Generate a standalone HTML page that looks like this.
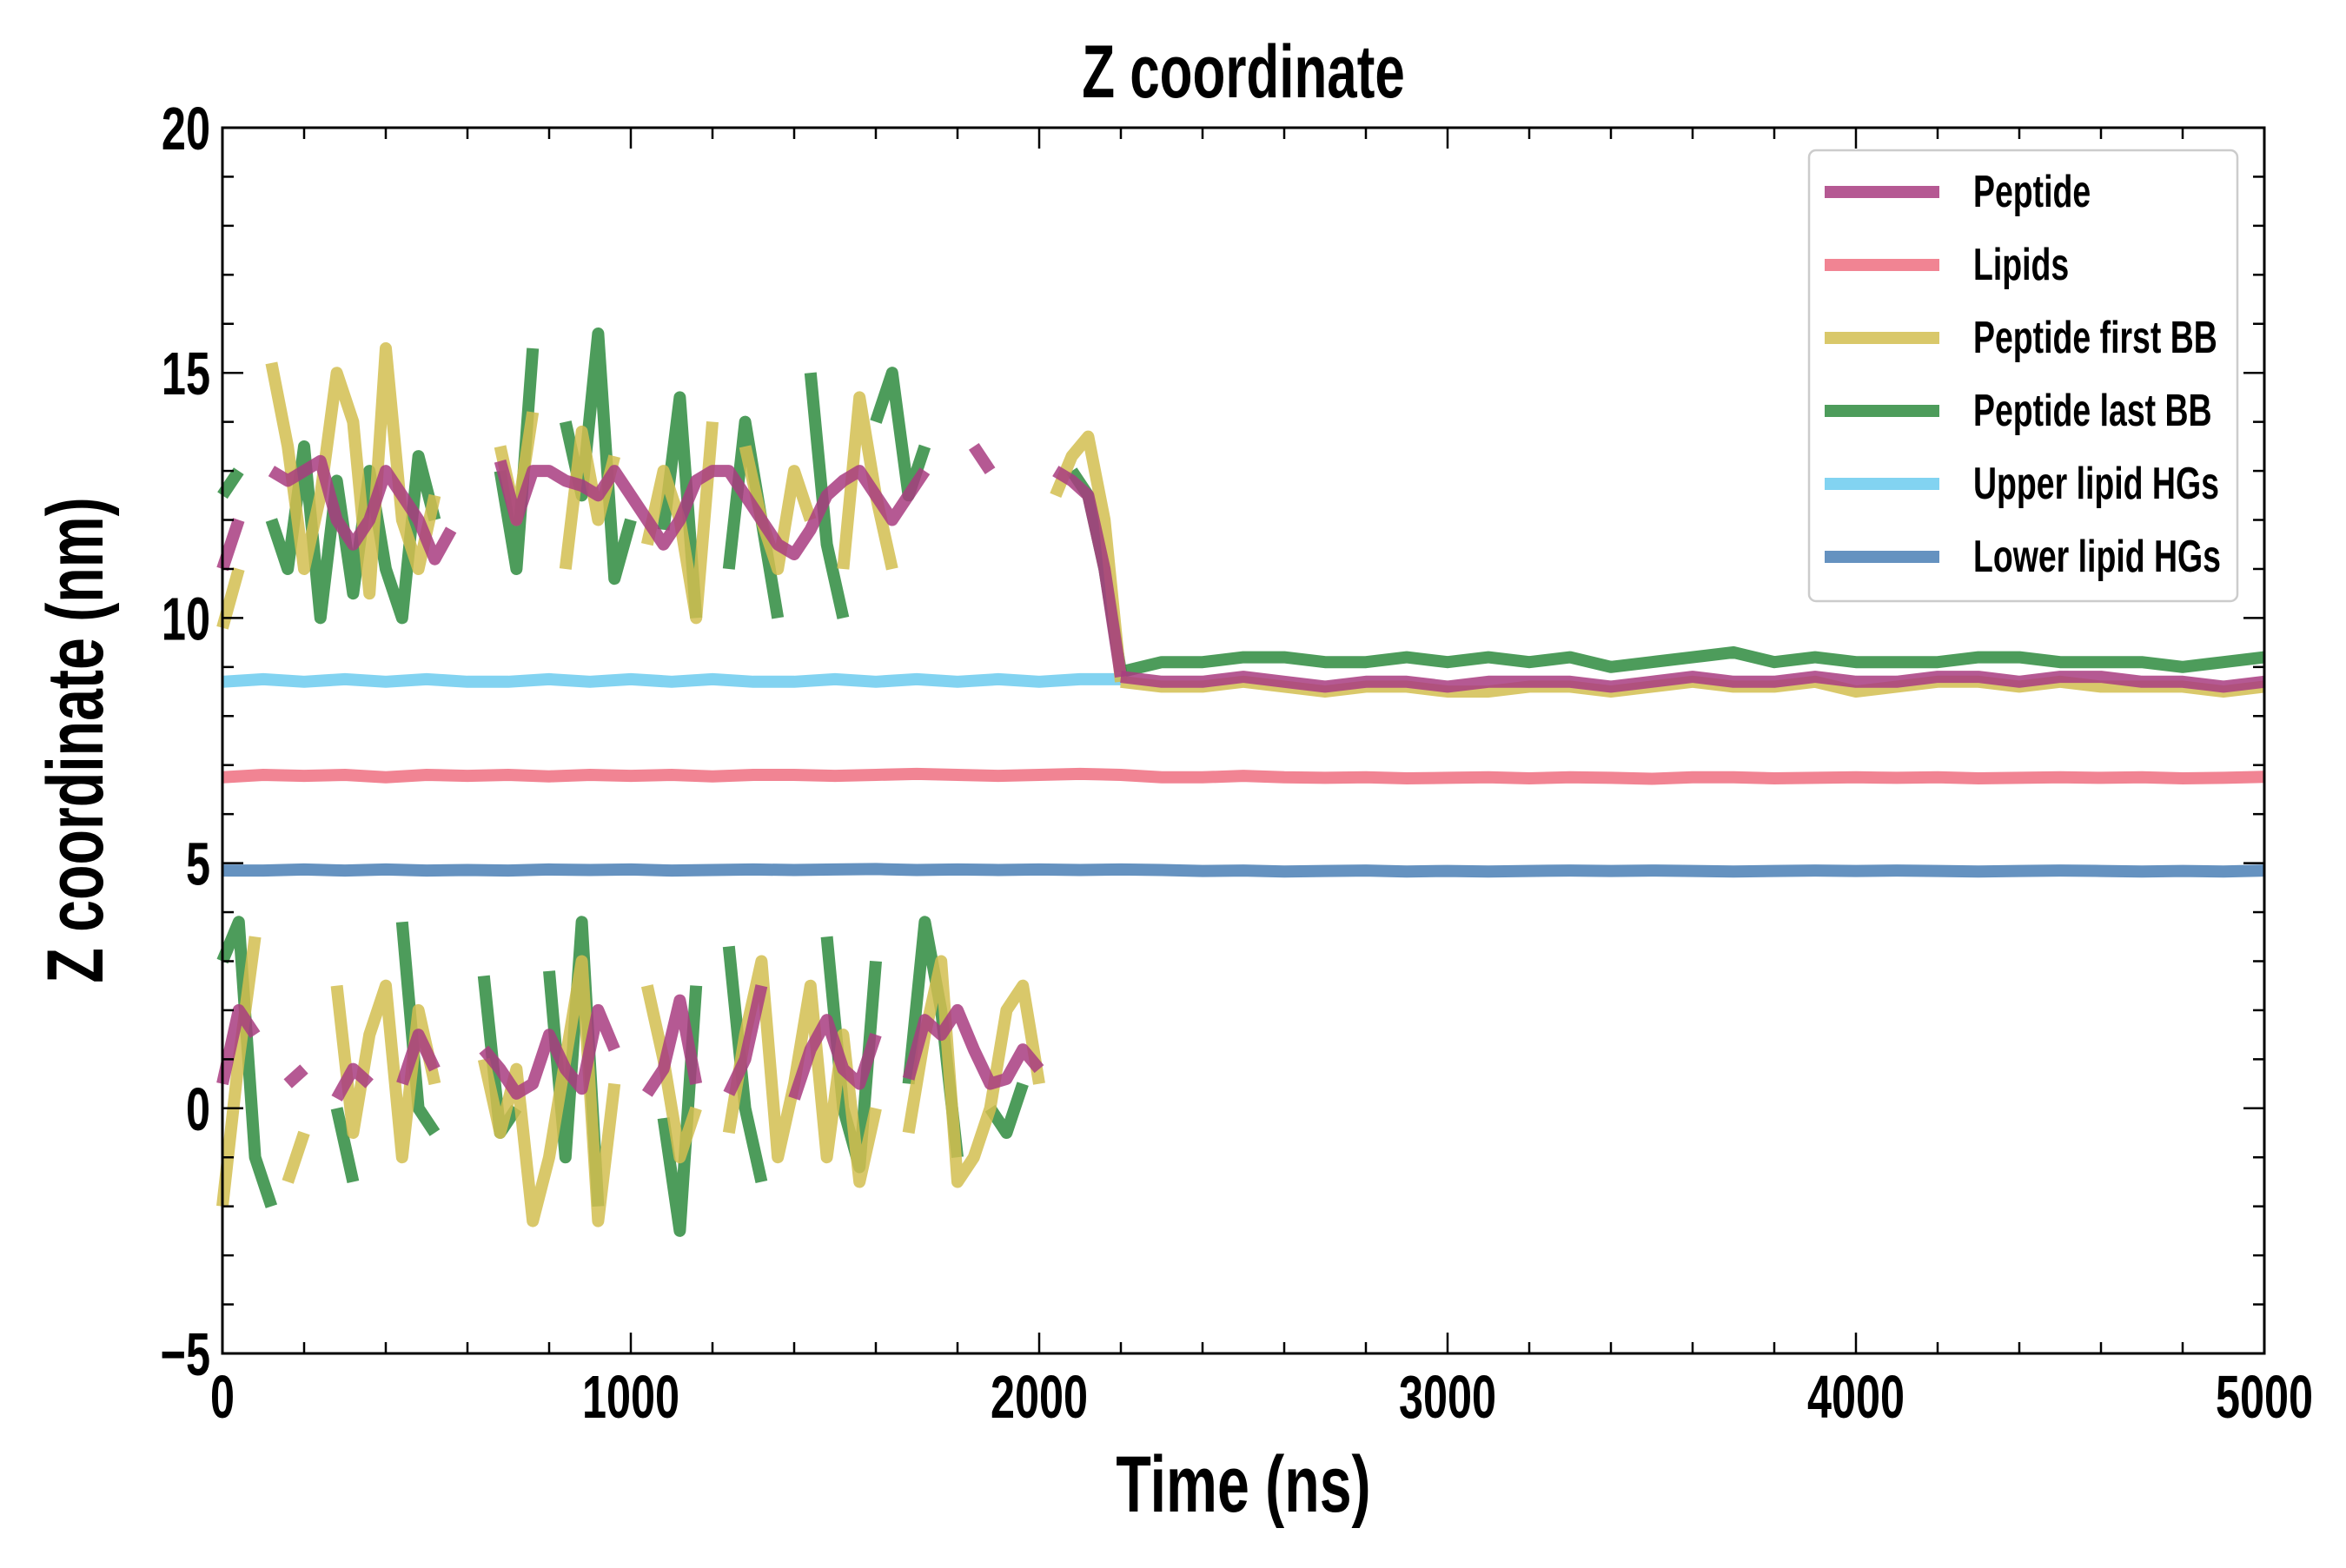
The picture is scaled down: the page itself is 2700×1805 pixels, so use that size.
<!DOCTYPE html>
<html><head><meta charset="utf-8"><style>
html,body{margin:0;padding:0;background:#fff;}
svg text{font-family:"Liberation Sans Narrow","Liberation Sans",sans-serif;font-weight:bold;}
</style></head><body>
<svg id="chart" width="2700" height="1800" viewBox="0 0 2700 1800" xmlns="http://www.w3.org/2000/svg">
<rect width="2700" height="1800" fill="#fff"/>
<g id="marks"></g>
<g id="axes"></g>
<text class="cond" x="1431" y="112" font-size="86" text-anchor="middle">Z coordinate</text>
<text class="cond" x="1431" y="1740" font-size="92" text-anchor="middle">Time (ns)</text>
<text class="cond" transform="translate(118,852) rotate(-90)" font-size="92" text-anchor="middle">Z coordinate (nm)</text>
<g id="legend"></g>
</svg>
<script>
const xTicks=[0,1000,2000,3000,4000,5000];
const yTicks=[-5,0,5,10,15,20];
const seriesNames=["Peptide","Lipids","Peptide first BB","Peptide last BB","Upper lipid HGs","Lower lipid HGs"];
const seriesColors=["#a83c80","#ee6e80","#d2be50","#2e8b3e","#6ccbef","#4a7fb5"];
// early phase, t = 0..2200 step 40
const pepUp=[11,12,null,13,12.8,13,13.2,12,11.5,12,13,12.5,12,11.2,11.8,null,null,13.2,12,13,13,12.8,12.7,12.5,13,12.5,12,11.5,12,12.8,13,13,12.5,12,11.5,11.3,11.8,12.5,12.8,13,12.5,12,12.5,13,null,null,13.5,13,null,12.5,null,13,12.8,12.5,11,8.8];
const firstUp=[9.8,11,null,15.2,13.5,11,12.5,15,14,10.5,15.5,12,11,12.5,null,null,null,13.5,12,14.2,null,11,13.8,12,13.3,null,11.5,13,12,10,14,null,13.5,12,11,13,12,null,11,14.5,12.5,11,null,13.5,null,null,null,null,15.5,null,null,12.5,13.3,13.7,12,8.7];
const lastUp=[12.5,13,null,12,11,13.5,10,12.8,10.5,13,11,10,13.3,12,null,null,null,13,11,15.5,null,14,12.5,15.8,10.8,12,null,11.8,14.5,10,null,11,14,12,10,null,15,11.5,10,null,14,15,12.5,13.5,null,null,16.3,null,12,null,null,null,13,12.5,11,8.9];
const pepLo=[0.5,2,1.5,null,0.5,0.8,null,0.2,0.8,0.5,null,0.5,1.5,0.8,null,null,1.2,0.8,0.3,0.5,1.5,0.8,0.4,2,1.2,null,0.3,0.8,2.2,0.5,null,0.3,1,2.5,null,0.2,1.2,1.8,0.8,0.5,1.5,null,0.6,1.8,1.5,2,1.2,0.5,0.6,1.2,0.8,null,null,null,null,null];
const firstLo=[-2,1,3.5,null,-1.5,-0.5,null,2.5,-0.5,1.5,2.5,-1,2,0.5,null,null,1,-0.5,0.8,-2.3,-1,1,3,-2.3,0.5,null,2.5,1,-1,0,null,-0.5,1.5,3,-1,0.5,2.5,-1,1.5,-1.5,0,null,-0.5,1.5,3,-1.5,-1,0,2,2.5,0.5,null,null,null,null,null];
const lastLo=[3,3.8,-1,-2,null,3,null,0,-1.5,null,null,3.8,0,-0.5,null,null,2.7,-0.5,0,null,2.8,-1,3.8,-2,null,null,null,-0.2,-2.5,2.5,null,3.3,0,-1.5,null,-1,null,3.5,0,-1.2,3,null,0.5,3.8,2,-1,null,0,-0.5,0.5,null,null,null,null,null,null];
// late phase, t = 2200..5000 step 100
const pepLate=[8.8,8.7,8.7,8.8,8.7,8.6,8.7,8.7,8.6,8.7,8.7,8.7,8.6,8.7,8.8,8.7,8.7,8.8,8.7,8.7,8.8,8.8,8.7,8.8,8.8,8.7,8.7,8.6,8.7];
const firstLate=[8.7,8.6,8.6,8.7,8.6,8.5,8.6,8.6,8.5,8.5,8.6,8.6,8.5,8.6,8.7,8.6,8.6,8.7,8.5,8.6,8.7,8.7,8.6,8.7,8.6,8.6,8.6,8.5,8.6];
const lastLate=[8.9,9.1,9.1,9.2,9.2,9.1,9.1,9.2,9.1,9.2,9.1,9.2,9.0,9.1,9.2,9.3,9.1,9.2,9.1,9.1,9.1,9.2,9.2,9.1,9.1,9.1,9.0,9.1,9.2];
// flat series, t = 0..5000 step 100
const upperHG=[8.7,8.75,8.7,8.75,8.7,8.75,8.7,8.7,8.75,8.7,8.75,8.7,8.75,8.7,8.7,8.75,8.7,8.75,8.7,8.75,8.7,8.75,8.75];
const lipids=[6.75,6.8,6.78,6.8,6.75,6.8,6.78,6.8,6.77,6.8,6.78,6.8,6.77,6.8,6.8,6.78,6.8,6.82,6.8,6.78,6.8,6.82,6.8,6.75,6.75,6.78,6.75,6.74,6.75,6.73,6.74,6.75,6.73,6.75,6.74,6.72,6.75,6.75,6.73,6.74,6.75,6.74,6.75,6.73,6.74,6.75,6.74,6.75,6.73,6.74,6.76];
const lowerHG=[4.85,4.85,4.87,4.85,4.87,4.85,4.86,4.85,4.87,4.86,4.87,4.85,4.86,4.87,4.86,4.87,4.88,4.86,4.87,4.86,4.87,4.86,4.87,4.86,4.84,4.85,4.83,4.84,4.85,4.83,4.84,4.83,4.84,4.85,4.84,4.85,4.84,4.83,4.84,4.85,4.84,4.85,4.84,4.83,4.84,4.85,4.84,4.83,4.84,4.83,4.85];

const X0=256,X1=2606,Y0=1558,Y1=147;
const xs=t=>X0+(t/5000)*(X1-X0);
const ys=v=>Y0-((v+5)/25)*(Y0-Y1);
const NS="http://www.w3.org/2000/svg";
const marks=document.getElementById('marks');
const axes=document.getElementById('axes');
function mk(tag,attrs,parent){const e=document.createElementNS(NS,tag);for(const k in attrs)e.setAttribute(k,attrs[k]);parent.appendChild(e);return e;}
function line(arr,t0,dt,color,name){
  let d='',pen=false;
  arr.forEach((v,i)=>{if(v===null){pen=false;return;}d+=(pen?'L':'M')+xs(t0+i*dt).toFixed(1)+','+ys(v).toFixed(1);pen=true;});
  const p=mk('path',{d:d,fill:'none',stroke:color,'stroke-width':14,'stroke-opacity':0.85,'stroke-linejoin':'round'},marks);
  
  
}
line(upperHG.concat(new Array(28).fill(null)),0,100,seriesColors[4],'upper-lipid-hg-line');
line(lowerHG,0,100,seriesColors[5],'lower-lipid-hg-line');
line(lipids,0,100,seriesColors[1],'lipids-line');
line(lastUp,0,40,seriesColors[3],'last-bb-upper-line');
line(lastLo,0,40,seriesColors[3],'last-bb-lower-line');
line(lastLate,2200,100,seriesColors[3],'last-bb-late-line');
line(firstUp,0,40,seriesColors[2],'first-bb-upper-line');
line(firstLo,0,40,seriesColors[2],'first-bb-lower-line');
line(firstLate,2200,100,seriesColors[2],'first-bb-late-line');
line(pepUp,0,40,seriesColors[0],'peptide-upper-line');
line(pepLo,0,40,seriesColors[0],'peptide-lower-line');
line(pepLate,2200,100,seriesColors[0],'peptide-late-line');

const fr=mk('rect',{x:X0,y:Y1,width:X1-X0,height:Y0-Y1,fill:'none',stroke:'#000','stroke-width':3},axes);


for(let t=0;t<=5000;t+=200){const x=xs(t);const maj=t%1000===0;const L=maj?24:13;
  mk('line',{x1:x,y1:Y0,x2:x,y2:Y0-L,stroke:'#000','stroke-width':2.5},axes);
  mk('line',{x1:x,y1:Y1,x2:x,y2:Y1+L,stroke:'#000','stroke-width':2.5},axes);}
for(let v=-5;v<=20;v++){const y=ys(v);const maj=v%5===0;const L=maj?24:13;
  mk('line',{x1:X0,y1:y,x2:X0+L,y2:y,stroke:'#000','stroke-width':2.5},axes);
  mk('line',{x1:X1,y1:y,x2:X1-L,y2:y,stroke:'#000','stroke-width':2.5},axes);}
xTicks.forEach(t=>{const tx=mk('text',{x:xs(t),y:Y0+74,'font-size':70,'text-anchor':'middle','class':'cond'},axes);tx.textContent=t;
  
  });
yTicks.forEach(v=>{const tx=mk('text',{x:X0-14,y:ys(v)+25,'font-size':70,'text-anchor':'end','class':'cond'},axes);tx.textContent=v<0?'\u2212'+(-v):v;
  
  });

const lg=document.getElementById('legend');
const lb=mk('rect',{x:2082,y:173,width:493,height:519,rx:8,fill:'#fff',stroke:'#ccc','stroke-width':2.5},lg);


[0,1,2,3,4,5].forEach((si,i)=>{const y=221+i*84;
  const g=mk('g',{},lg);
  
  
  mk('line',{x1:2100,y1:y,x2:2232,y2:y,stroke:seriesColors[si],'stroke-width':14,'stroke-opacity':0.85},g);
  const t=mk('text',{x:2271,y:y+17,'font-size':52,'class':'cond'},g);t.textContent=seriesNames[si];});

document.querySelectorAll('text.cond').forEach(t=>{
  const w=t.getComputedTextLength();
  if(w>0){t.setAttribute('textLength',(w*0.72).toFixed(1));t.setAttribute('lengthAdjust','spacingAndGlyphs');}
});
</script>
</body></html>
